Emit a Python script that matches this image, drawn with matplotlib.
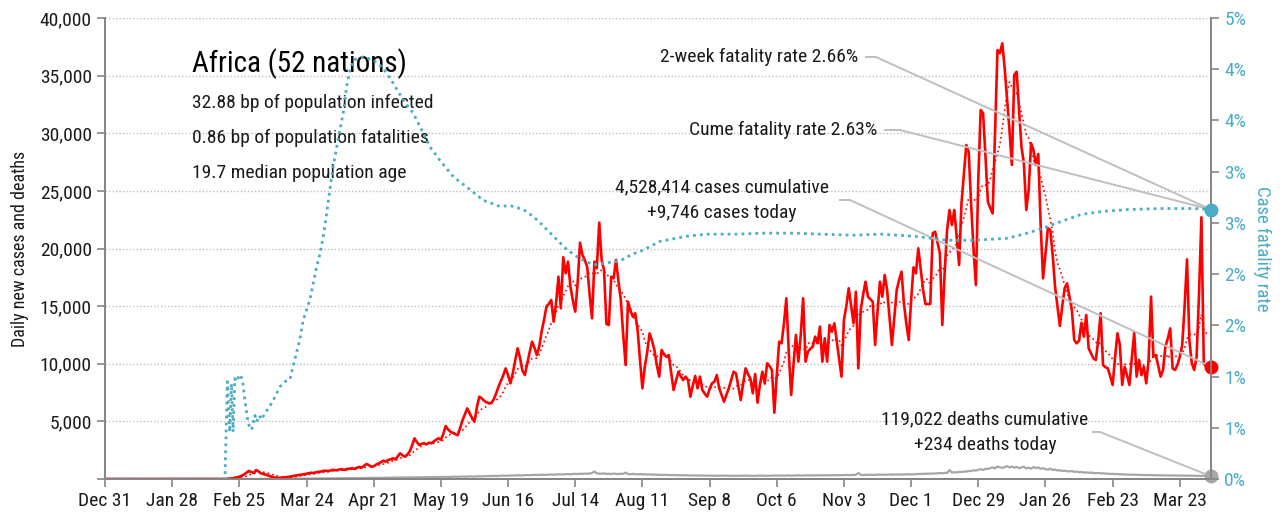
import math
import matplotlib
matplotlib.use("Agg")
import matplotlib.pyplot as plt
import matplotlib.dates as mdates
from matplotlib import font_manager
from matplotlib.ticker import FuncFormatter, MultipleLocator
import pandas as pd

# narrowest installed family first
installed = {f.name for f in font_manager.fontManager.ttflist}
for fam in ['Roboto Condensed', 'Liberation Sans Narrow', 'DejaVu Sans Condensed',
            'Open Sans Condensed', 'Roboto']:
    if fam in installed:
        break
plt.rcParams['font.family'] = [fam, 'DejaVu Sans']

START = '2019-12-31'

# daily new cases, one value per day from Dec 31
cases = [
    0, 0, 0, 0, 0, 0, 0, 0, 0, 0,
    0, 0, 0, 0, 0, 0, 0, 0, 0, 0,
    0, 0, 0, 0, 0, 0, 0, 0, 0, 0,
    0, 0, 0, 0, 0, 0, 0, 0, 0, 0,
    0, 0, 0, 0, 0, 0, 0, 0, 0, 0,
    0, 20, 40, 60, 100, 150, 200, 280, 400, 550,
    700, 600, 520, 780, 650, 500, 430, 380, 300, 220,
    150, 120, 100, 110, 130, 150, 170, 200, 240, 280,
    320, 350, 380, 420, 460, 500, 550, 520, 580, 620,
    650, 700, 720, 680, 740, 800, 760, 780, 850, 820,
    800, 880, 900, 920, 880, 980, 1050, 1000, 1150, 1300,
    1200, 1070, 1100, 1250, 1350, 1450, 1590, 1500, 1650, 1700,
    1800, 1700, 1950, 2230, 2050, 1940, 2100, 2400, 2900, 3530,
    3200, 2950, 3050, 3100, 3000, 3150, 3100, 3250, 3400, 3530,
    3400, 3900, 4600, 4300, 4100, 4000, 3900, 3800, 4400, 5100,
    5600, 6130, 5700, 5300, 4970, 6200, 7140, 7000, 6800, 6650,
    6600, 6570, 6900, 7400, 8000, 8500, 9000, 9600, 9000, 8300,
    9200, 10300, 11340, 10500, 9400, 9020, 10000, 11000, 11910, 11400,
    10760, 11500, 12800, 13800, 14950, 15200, 15530, 13650, 15200, 17550,
    14810, 19240, 17850, 18860, 16690, 15500, 14520, 17000, 20500, 19440,
    19000, 18370, 16000, 13940, 18860, 18280, 22240, 19000, 18140, 13450,
    13360, 17550, 17410, 19000, 17200, 15530, 12500, 9890, 15380, 14600,
    14080, 14380, 12930, 10300, 7870, 9740, 11000, 12640, 12000, 11190,
    9900, 8880, 11190, 10800, 10610, 10760, 9200, 7720, 8500, 9310,
    8900, 8590, 8880, 8590, 7140, 8100, 8940, 7870, 8880, 7720,
    7400, 7140, 7800, 8300, 8440, 9020, 7870, 7300, 6710, 7300,
    7870, 8590, 9310, 9170, 8000, 6850, 8300, 9600, 9100, 8730,
    7440, 9110, 6620, 8200, 9310, 8300, 10040, 9800, 9460, 5750,
    9000, 11910, 11770, 13500, 15680, 11000, 7290, 10000, 12490, 10180,
    12500, 15680, 10180, 11050, 11300, 11480, 12350, 11770, 13220, 10180,
    12210, 10180, 13360, 12780, 13510, 12000, 10400, 8880, 13800, 15000,
    16550, 15000, 13510, 16250, 9600, 14660, 16000, 17120, 15820, 15600,
    15380, 11630, 14500, 17120, 15820, 17700, 16400, 14000, 11630, 14000,
    16400, 17270, 17990, 15250, 13500, 12060, 15500, 18370, 17850, 20020,
    18200, 16400, 15180, 15180, 15180, 21320, 21460, 20500, 19580, 13360,
    18000, 21610, 23340, 22040, 23340, 21000, 18570, 23920, 26500, 28980,
    28400, 23920, 20000, 16830, 26000, 32010, 31730, 28000, 24060, 23500,
    23050, 30280, 37220, 36940, 37800, 35640, 33000, 30280, 27250, 35060,
    35340, 32000, 28830, 27390, 23340, 25080, 29130, 28550, 27250, 28200,
    22000, 17410, 19500, 21750, 21610, 19500, 16690, 15000, 13280, 15000,
    16550, 16980, 15800, 14660, 12060, 11770, 12000, 13560, 12350, 14230,
    11340, 10900, 10470, 10330, 12060, 14380, 9890, 9700, 9600, 8900,
    8160, 10500, 12640, 11630, 8160, 9740, 9000, 8160, 10500, 12700,
    8880, 10330, 9020, 9740, 8300, 10330, 15820, 10610, 10760, 9800,
    8880, 9460, 11480, 12200, 13070, 9600, 9460, 9890, 10600, 11630,
    15000, 19060, 12000, 10040, 9460, 10610, 16000, 22710, 10040, 9740,
    9700, 9746,
]

# daily new deaths, same days
deaths = [
    0, 0, 0, 0, 0, 0, 0, 0, 0, 0,
    0, 0, 0, 0, 0, 0, 0, 0, 0, 0,
    0, 0, 0, 0, 0, 0, 0, 0, 0, 0,
    0, 0, 0, 0, 0, 0, 0, 0, 0, 0,
    0, 0, 0, 0, 0, 0, 0, 0, 0, 0,
    0, 0, 0, 0, 0, 0, 1, 1, 2, 3,
    5, 4, 6, 8, 7, 10, 12, 11, 15, 14,
    18, 20, 17, 22, 25, 21, 28, 30, 26, 32,
    35, 30, 38, 40, 36, 44, 42, 48, 45, 50,
    52, 48, 56, 60, 55, 62, 58, 65, 70, 64,
    72, 68, 75, 80, 74, 85, 82, 88, 78, 92,
    95, 90, 100, 105, 96, 110, 104, 115, 108, 120,
    118, 125, 130, 122, 135, 128, 140, 145, 132, 150,
    148, 155, 142, 160, 165, 150, 170, 162, 175, 168,
    180, 172, 190, 185, 178, 195, 200, 188, 210, 205,
    215, 198, 225, 220, 210, 235, 240, 228, 250, 245,
    260, 248, 275, 268, 255, 285, 290, 280, 300, 295,
    310, 298, 325, 318, 305, 335, 340, 330, 355, 348,
    360, 345, 375, 368, 355, 390, 385, 370, 400, 395,
    410, 390, 420, 430, 405, 440, 450, 425, 460, 445,
    470, 450, 480, 520, 650, 490, 470, 460, 485, 440,
    455, 430, 470, 450, 425, 460, 440, 560, 430, 415,
    440, 420, 400, 430, 395, 410, 385, 400, 370, 390,
    360, 380, 345, 365, 340, 355, 330, 350, 320, 340,
    315, 335, 310, 325, 300, 320, 295, 315, 290, 310,
    285, 305, 280, 300, 275, 295, 270, 290, 280, 300,
    275, 290, 265, 285, 270, 295, 280, 300, 270, 290,
    265, 285, 275, 300, 280, 295, 270, 290, 285, 305,
    290, 310, 280, 300, 295, 315, 285, 305, 300, 320,
    295, 315, 305, 325, 300, 320, 310, 330, 305, 325,
    315, 335, 310, 330, 325, 345, 320, 340, 335, 355,
    330, 350, 345, 365, 520, 360, 340, 365, 355, 375,
    350, 370, 365, 385, 360, 380, 375, 395, 370, 390,
    385, 405, 380, 400, 395, 415, 390, 410, 420, 440,
    430, 455, 445, 470, 460, 485, 470, 500, 520, 495,
    540, 520, 780, 560, 590, 570, 620, 600, 650, 640,
    700, 680, 760, 730, 800, 850, 780, 900, 860, 950,
    1000, 920, 1080, 1020, 960, 1040, 1120, 1000, 1080, 980,
    1050, 940, 1010, 1060, 920, 980, 900, 1030, 960, 1000,
    880, 940, 850, 820, 900, 780, 820, 740, 760, 700,
    720, 680, 650, 700, 620, 640, 590, 610, 560, 580,
    540, 560, 520, 500, 530, 480, 500, 460, 470, 440,
    450, 420, 430, 400, 410, 380, 395, 370, 385, 360,
    370, 345, 360, 335, 350, 330, 345, 320, 335, 310,
    330, 305, 320, 300, 315, 295, 310, 290, 305, 285,
    300, 280, 295, 275, 290, 270, 285, 265, 280, 250,
    260, 234,
]

# cumulative case fatality rate (%), sampled by day number
cfr_day = [0, 50, 51, 52, 52.7, 53.4, 54.1, 54.8, 56.2, 57.3, 58.3, 59.7,
           61.1, 62.5, 63.2, 64.3, 65.2, 66.6, 68.7, 70.8, 72.9, 75, 77.1,
           78.4, 79.8, 81.2, 82.6, 84, 85.4, 86.8, 88.2, 89.6, 91, 92.4,
           93.7, 95.1, 96.5, 97.9, 99.3, 100.7, 102.1, 103.5, 107.6, 111.8,
           116, 120.2, 124.3, 128.5, 131.3, 135.5, 139.6, 145.2, 150.8,
           157.7, 164.7, 168.8, 174.4, 178.6, 181.4, 186.9, 192.5, 198,
           203.6, 209.2, 214.7, 220.3, 223.1, 231.4, 242.6, 250.9, 263.4,
           274.5, 287, 298.2, 312.1, 323.2, 337.1, 351, 362.1, 376, 383,
           389.9, 396.9, 406.6, 415, 426.1, 440, 453.9, 461]
cfr_pct = [0, 0, 0.95, 0.46, 0.93, 0.46, 0.98, 0.95, 1.02, 0.97, 0.77, 0.54,
           0.48, 0.62, 0.56, 0.62, 0.58, 0.64, 0.71, 0.80, 0.90, 0.95, 0.97,
           1.10, 1.23, 1.36, 1.55, 1.65, 1.75, 1.91, 2.07, 2.20, 2.37, 2.59,
           2.82, 3.05, 3.23, 3.41, 3.57, 3.83, 3.99, 4.09, 4.12, 4.09,
           4.01, 3.86, 3.70, 3.57, 3.44, 3.24, 3.11, 2.95, 2.85,
           2.72, 2.66, 2.67, 2.63, 2.56, 2.50, 2.37, 2.24, 2.15,
           2.09, 2.11, 2.13, 2.20, 2.22, 2.32, 2.37, 2.39, 2.39,
           2.40, 2.40, 2.39, 2.38, 2.39, 2.37, 2.33, 2.33, 2.35, 2.39,
           2.44, 2.50, 2.58, 2.61, 2.63, 2.64, 2.64, 2.63]

title = 'Africa (52 nations)'
info = ['32.88 bp of population infected',
        '0.86 bp of population fatalities',
        '19.7 median population age']
two_week_cfr = 2.66
cume_cfr = 2.63
total_cases = 4528414
total_deaths = 119022

RED = '#ff0000'
CYAN = '#4bacc6'
GREY = '#a6a6a6'
LEAD = '#bfbfbf'
AXC = '#868686'
TXT = '#1a1a1a'

dates = pd.date_range(START, periods=len(cases), freq='D')
s_cases = pd.Series(cases, index=dates)
ma7 = s_cases.rolling(7).mean()
cfr_dates = [pd.Timestamp(START) + pd.Timedelta(days=d) for d in cfr_day]
last = mdates.date2num(dates[-1])

fig = plt.figure(figsize=(12.86, 5.17), dpi=100)
ax = fig.add_axes([105 / 1286, 38 / 517, 1106 / 1286, 461 / 517])
ax2 = ax.twinx()

ax.plot(dates, deaths, color=GREY, lw=1.6, zorder=2)
ax.plot(dates, cases, color=RED, lw=1.9, zorder=3)
ax.plot(dates, ma7, color=RED, lw=1.2, ls=(0, (1, 1.8)), zorder=3)
ax2.plot(cfr_dates, cfr_pct, color=CYAN, lw=2.0, ls=(0, (1, 1.5)))

# end-of-series markers
ax.plot([last], [cases[-1]], 'o', color=RED, ms=9, clip_on=False, zorder=5)
ax.plot([last], [deaths[-1]], 'o', color=GREY, ms=9, clip_on=False, zorder=5)
ax2.plot([last], [cfr_pct[-1]], 'o', color=CYAN, ms=9, clip_on=False, zorder=5)

ax.set_xlim(dates[0], dates[-1])
ax.set_ylim(0, 40000)
ax2.set_ylim(0, 4.5)

ax.yaxis.set_major_locator(MultipleLocator(5000))
ax.yaxis.set_major_formatter(FuncFormatter(lambda v, p: '' if v == 0 else f'{v:,.0f}'))
ax.grid(axis='y', color='#bdbdbd', ls=(0, (1, 1.5)), lw=1.0)
ax.set_axisbelow(True)

ax2.yaxis.set_major_locator(MultipleLocator(0.5))
ax2.yaxis.set_major_formatter(FuncFormatter(lambda v, p: f'{math.floor(v + 0.5):.0f}%'))

ticks = pd.date_range(START, periods=17, freq='28D')
ax.set_xticks(ticks)
ax.xaxis.set_major_formatter(mdates.DateFormatter('%b %-d'))

for a in (ax, ax2):
    a.spines['top'].set_visible(False)
    for side in ('left', 'right', 'bottom'):
        a.spines[side].set_color(AXC)
        a.spines[side].set_linewidth(1.3)
ax.tick_params(axis='both', colors=AXC, labelcolor=TXT, labelsize=14,
               length=6, width=1.2, direction='out')
ax2.tick_params(axis='y', colors=AXC, labelcolor=CYAN, labelsize=14,
                length=6, width=1.2, direction='out')

ax.set_ylabel('Daily new cases and deaths', fontsize=13, color=TXT, labelpad=8)
ax2.set_ylabel('Case fatality rate', fontsize=13.5, color=CYAN, rotation=270,
               labelpad=18)

# title block
ax.text(0.079, 0.902, title, transform=ax.transAxes, fontsize=21, color='black',
        va='center', ha='left')
for i, line in enumerate(info):
    ax.text(0.079, 0.815 - i * 0.076, line, transform=ax.transAxes, fontsize=14,
            color=TXT, va='center', ha='left')


def fx(px):
    return (px - 105) / 1106


def fy(py):
    return (479 - py) / 461


def leader(label, tx, ty, elbow, target, target_ax, ha='right', text_x=None):
    """Label at (tx, ty) in axes fraction, leader running to a data point."""
    ax.text(text_x if text_x is not None else tx, ty, label, transform=ax.transAxes,
            fontsize=14, color=TXT, ha=ha, va='center', linespacing=1.5)
    ax.plot([tx + 0.007, elbow], [ty, ty], transform=ax.transAxes, color=LEAD,
            lw=1.4, clip_on=False, zorder=4)
    ax.annotate('', xy=target, xycoords=target_ax.transData,
                xytext=(elbow, ty), textcoords='axes fraction',
                arrowprops=dict(arrowstyle='-', color=LEAD, lw=1.4,
                                shrinkA=0, shrinkB=0), zorder=4)


leader(f'2-week fatality rate {two_week_cfr:.2f}%', fx(858), fy(57), fx(876),
       (last, cfr_pct[-1]), ax2)
leader(f'Cume fatality rate {cume_cfr:.2f}%', fx(877), fy(130), fx(900),
       (last, cfr_pct[-1]), ax2)
leader(f'{total_cases:,} cases cumulative\n+{cases[-1]:,} cases today',
       fx(832), fy(200), fx(850), (last, cases[-1]), ax,
       ha='center', text_x=fx(722))
leader(f'{total_deaths:,} deaths cumulative\n+{deaths[-1]:,} deaths today',
       fx(1085), fy(432), fx(1100), (last, deaths[-1]), ax,
       ha='center', text_x=fx(985))

fig.savefig('out.png', dpi=100)
